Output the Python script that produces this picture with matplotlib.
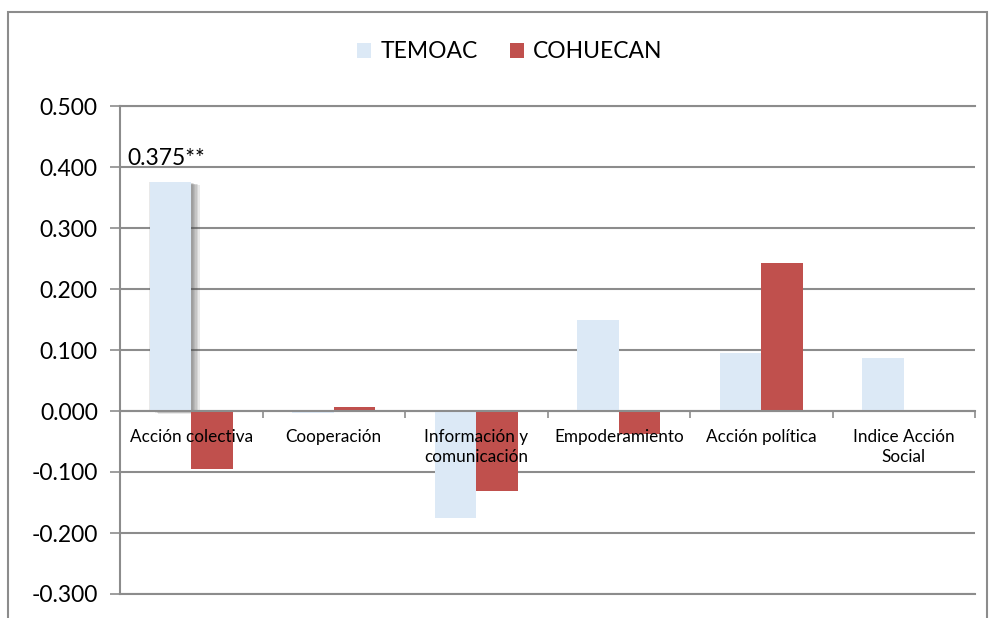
import numpy as np
import matplotlib.pyplot as plt
import matplotlib.patheffects as pe
from matplotlib.patches import Rectangle

plt.rcParams['font.family'] = ['Lato', 'DejaVu Sans']

categories = ["Acción colectiva", "Cooperación", "Información y\ncomunicación",
              "Empoderamiento", "Acción política", "Indice Acción\nSocial"]
temoac = [0.375, -0.003, -0.176, 0.149, 0.095, 0.087]
cohuecan = [-0.095, 0.007, -0.131, -0.037, 0.243, -0.002]
y_ticks = [0.5, 0.4, 0.3, 0.2, 0.1, 0.0, -0.1, -0.2, -0.3]

blue = "#dce9f6"
red = "#c0504d"
grid = "#8c8c8c"

fig = plt.figure(figsize=(9.91, 6.18), dpi=100)
ax = fig.add_axes([120 / 991, 1 - 594 / 618, 855 / 991, 488 / 618])

x = np.arange(len(categories))
w = 0.29
b1 = ax.bar(x - w / 2, temoac, w, color=blue, zorder=3, label="TEMOAC")
b2 = ax.bar(x + w / 2, cohuecan, w, color=red, zorder=3, label="COHUECAN")

ax.legend(loc="center", bbox_to_anchor=(510 / 991, 1 - 52 / 618),
          bbox_transform=fig.transFigure, ncol=2, frameon=False, fontsize=16.5,
          handlelength=0.62, handleheight=0.62, handletextpad=0.4,
          columnspacing=1.4)

# soft shadow on the highlighted bar
shadow = [pe.SimplePatchShadow(offset=(o, -o * 0.3), shadow_rgbFace="#505050", alpha=0.12)
          for o in (-1, 1, 2, 3, 4, 5, 6)]
b1[0].set_path_effects(shadow + [pe.Normal()])
ax.text(x[0] - w / 2 - 0.30, 0.403, "0.375**", fontsize=16.5,
        ha="left", va="baseline", zorder=5)

ax.set_xlim(-0.5, len(categories) - 0.5)
ax.set_ylim(-0.3, 0.5)
ax.set_yticks(y_ticks)
ax.set_yticklabels([f"{v:.3f}" for v in y_ticks], fontsize=16.5)
ax.yaxis.grid(True, color=grid, linewidth=1.5, zorder=0)
ax.set_axisbelow(True)
for v in (0.5, -0.3):
    ax.axhline(v, color=grid, linewidth=1.5, clip_on=False, zorder=0)
ax.tick_params(axis="y", length=7, width=1.2, color=grid, pad=9)

for s in ("top", "right"):
    ax.spines[s].set_visible(False)
ax.spines["left"].set_color(grid)
ax.spines["left"].set_linewidth(1.5)
ax.spines["bottom"].set_position(("data", 0))
ax.spines["bottom"].set_color(grid)
ax.spines["bottom"].set_linewidth(1.5)
ax.spines["bottom"].set_zorder(4)

# category names sit just under the zero line, on top of the bars
ax.set_xticks(x)
ax.set_xticklabels([])
ax.tick_params(axis="x", which="major", length=0)
ax.set_xticks(np.arange(len(categories) + 1) - 0.5, minor=True)
ax.tick_params(axis="x", which="minor", length=5, width=1.2, color=grid)
for xi, name in zip(x, categories):
    ax.annotate(name, (xi, 0), xytext=(0, -13), textcoords="offset points",
                ha="center", va="top", fontsize=12.3, linespacing=1.3,
                zorder=6)

fig.add_artist(Rectangle((8 / 991, -0.05), 979 / 991, 1.05 - 12 / 618,
                         transform=fig.transFigure, fill=False,
                         edgecolor="#8c8c8c", linewidth=1.5))

fig.savefig("out.png", dpi=100)
